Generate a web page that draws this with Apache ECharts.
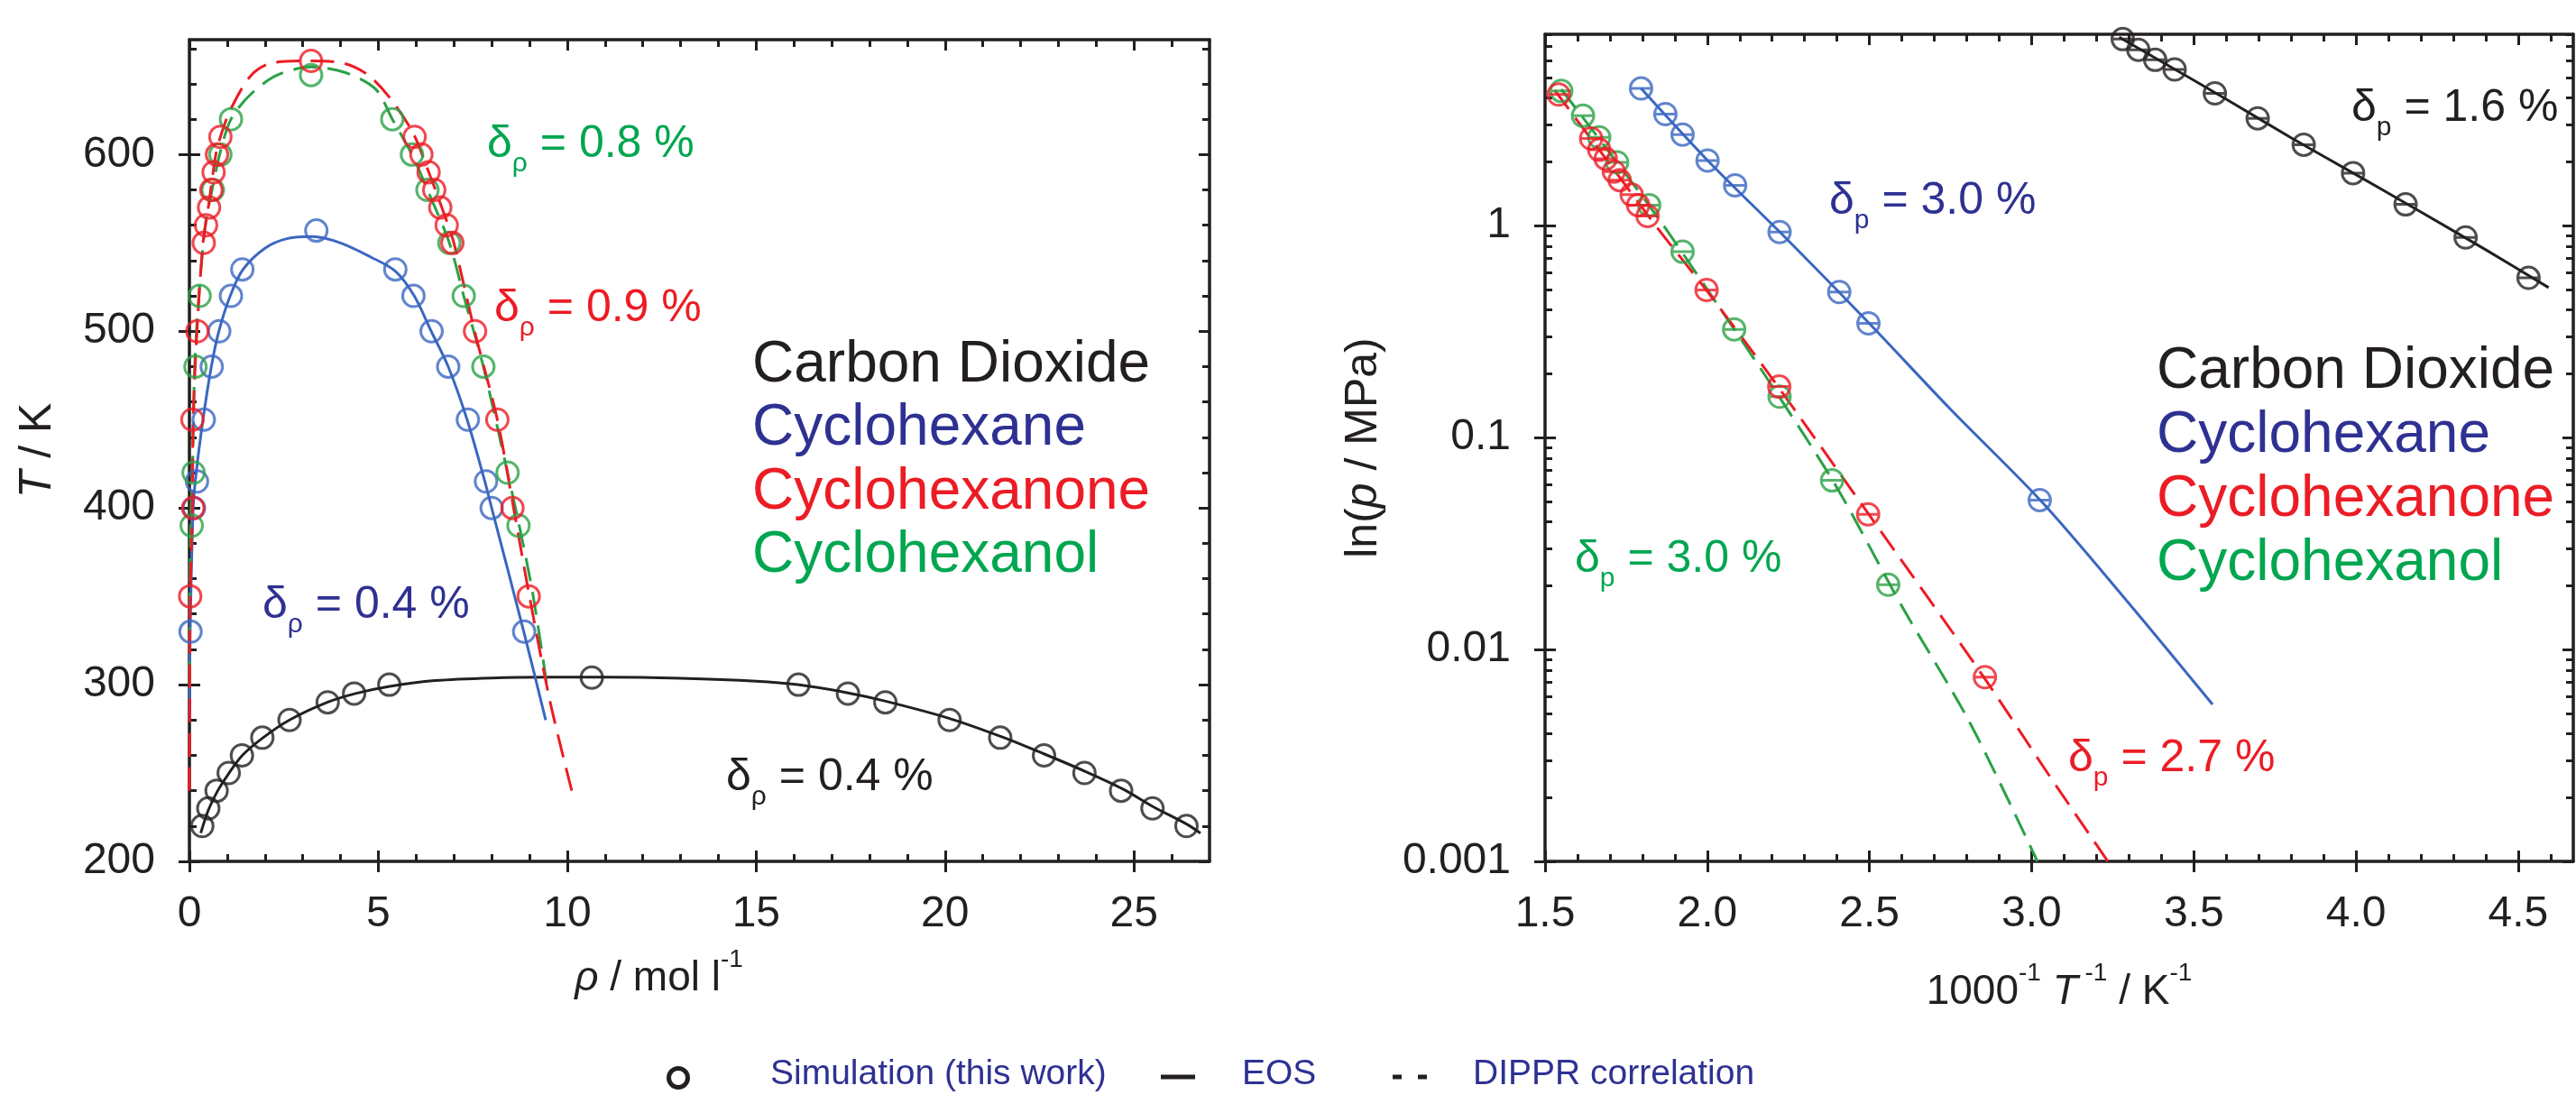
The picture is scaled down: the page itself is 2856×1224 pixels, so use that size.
<!DOCTYPE html>
<html>
<head>
<meta charset="utf-8">
<script src="https://cdn.jsdelivr.net/npm/echarts@6/dist/echarts.min.js"></script>
<style>
  html, body { margin: 0; padding: 0; background: #fff; }
  #chart { width: 2856px; height: 1224px; }
</style>
</head>
<body>
<div id="chart"></div>
<script>
// ---------- left panel: T / K against rho / mol l-1 ----------
const rhoTicks = [0, 5, 10, 15, 20, 25];
const tTicks = [200, 300, 400, 500, 600];

// simulation points
const co2SimRho = [0.34, 0.50, 0.72, 1.04, 1.39, 1.93, 2.65, 3.66, 4.36, 5.29, 10.65, 16.12, 17.43, 18.42, 20.12, 21.46, 22.62, 23.69, 24.66, 25.49, 26.39];
const co2SimT   = [220, 230, 240, 250, 260, 270, 280, 290, 295, 300, 304, 300, 295, 290, 280, 270, 260, 250, 240, 230, 220];
const hexSimRho = [0.03, 0.12, 0.20, 0.38, 0.59, 0.79, 1.10, 1.40, 3.36, 5.45, 5.93, 6.41, 6.85, 7.37, 7.85, 8.00, 8.86];
const hexSimT   = [330, 400, 415, 450, 480, 500, 520, 535, 557, 535, 520, 500, 480, 450, 415, 400, 330];
const oneSimRho = [0.02, 0.10, 0.08, 0.21, 0.38, 0.44, 0.52, 0.58, 0.64, 0.73, 0.82, 3.22, 5.96, 6.14, 6.33, 6.48, 6.64, 6.81, 6.96, 7.56, 8.15, 8.55, 8.98];
const oneSimT   = [350, 400, 450, 500, 550, 560, 570, 580, 590, 600, 610, 653, 610, 600, 590, 580, 570, 560, 550, 500, 450, 400, 350];
const olSimRho  = [0.06, 0.11, 0.16, 0.27, 0.62, 0.82, 1.10, 3.22, 5.37, 5.89, 6.30, 6.88, 7.26, 7.78, 8.42, 8.71];
const olSimT    = [390, 420, 480, 520, 580, 600, 620, 645, 620, 600, 580, 550, 520, 480, 420, 390];

// EOS (solid) and DIPPR (dashed) curves, [rho, T]
const co2Eos = [[0.30, 216], [0.50, 229], [0.75, 240], [1.05, 250], [1.40, 260], [1.95, 270], [2.65, 280], [3.65, 290], [4.40, 295], [5.30, 299], [6.50, 302.3], [8.0, 303.8], [9.5, 304.2], [11.0, 304.2], [13.0, 303.6], [15.0, 302], [16.1, 300], [17.4, 295.5], [18.4, 290.8], [20.1, 281], [21.5, 270.5], [22.6, 261], [23.7, 251], [24.7, 241], [25.5, 231], [26.4, 221], [26.76, 216]];
const hexEos = [[0.0, 280], [0.02, 330], [0.10, 400], [0.18, 420], [0.36, 450], [0.58, 480], [0.78, 500], [1.08, 520], [1.42, 535], [2.0, 547], [2.6, 552.5], [3.25, 553.6], [4.0, 550], [4.8, 542], [5.45, 534], [5.95, 520], [6.40, 500], [6.85, 480], [7.35, 450], [7.82, 415], [8.0, 400], [8.85, 330], [9.43, 280]];
const oneDippr = [[0.0, 240], [0.01, 300], [0.02, 350], [0.08, 400], [0.10, 450], [0.20, 500], [0.36, 550], [0.50, 570], [0.70, 600], [0.85, 612], [1.10, 626], [1.64, 645], [2.20, 652], [3.20, 653], [4.10, 651.5], [4.73, 645], [5.27, 633], [5.90, 613], [6.30, 592], [6.80, 563], [7.00, 550], [7.55, 500], [8.15, 450], [8.58, 400], [9.00, 350], [9.55, 290], [10.12, 240]];
const olDippr = [[0.0, 300], [0.03, 390], [0.08, 420], [0.14, 480], [0.25, 520], [0.42, 560], [0.60, 580], [0.80, 600], [1.10, 620], [1.64, 634.5], [2.33, 645], [3.22, 649.5], [4.11, 646.5], [4.93, 637], [5.37, 620], [5.89, 600], [6.30, 580], [6.88, 550], [7.26, 520], [7.78, 480], [8.42, 420], [8.73, 390], [9.10, 350], [9.48, 297]];

// ---------- right panel: p / MPa (log) against 1000/T ----------
const invTTicks = [1.5, 2.0, 2.5, 3.0, 3.5, 4.0, 4.5];
const pTicks = [0.001, 0.01, 0.1, 1];

const co2SimInvT = [3.281, 3.329, 3.381, 3.441, 3.565, 3.697, 3.839, 3.991, 4.153, 4.338, 4.532];
const co2SimP    = [7.59, 6.76, 6.06, 5.46, 4.21, 3.21, 2.41, 1.77, 1.26, 0.88, 0.567];
const hexSimInvT = [1.796, 1.871, 1.924, 2.001, 2.086, 2.223, 2.407, 2.497, 3.025];
const hexSimP    = [4.44, 3.36, 2.69, 2.03, 1.55, 0.933, 0.486, 0.346, 0.0507];
const oneSimInvT = [1.542, 1.642, 1.667, 1.687, 1.712, 1.730, 1.767, 1.787, 1.816, 1.998, 2.222, 2.496, 2.856];
const oneSimP    = [4.16, 2.58, 2.28, 2.07, 1.80, 1.64, 1.40, 1.25, 1.11, 0.497, 0.174, 0.0434, 0.0074];
const olSimInvT  = [1.550, 1.617, 1.667, 1.722, 1.821, 1.924, 2.083, 2.223, 2.385, 2.558];
const olSimP     = [4.32, 3.30, 2.61, 1.99, 1.25, 0.753, 0.324, 0.156, 0.0628, 0.0202];

const co2EosP = [[3.27, 7.75], [3.40, 5.95], [3.60, 3.95], [3.80, 2.60], [4.00, 1.74], [4.20, 1.16], [4.40, 0.77], [4.594, 0.51]];
const hexEosP = [[1.796, 4.44], [2.00, 2.04], [2.25, 0.85], [2.50, 0.345], [2.75, 0.136], [3.03, 0.050], [3.30, 0.0165], [3.558, 0.0055]];
const oneDipprP = [[1.53, 4.35], [1.70, 1.95], [1.85, 0.96], [2.00, 0.49], [2.20, 0.19], [2.50, 0.043], [2.85, 0.0075], [3.05, 0.0026], [3.235, 0.001]];
const olDipprP = [[1.55, 4.4], [1.70, 2.2], [1.85, 1.08], [2.00, 0.5], [2.20, 0.175], [2.40, 0.058], [2.60, 0.0160], [2.81, 0.0045], [3.018, 0.001]];

// ---------- styles ----------
const FONT = "'Liberation Sans', Arial, Helvetica, sans-serif";
const INK = '#231f20';
const C_HEX = '#3a67c0', C_ONE = '#ec1c24', C_OL = '#2aa146';
const T_HEX = '#2e3192', T_OL = '#00a650';

const pts = (xs, ys) => xs.map((x, i) => [x, ys[i]]);
const notMajor = (vals, majors) => vals.filter(v => !majors.some(m => Math.abs(m - v) < 1e-9));
const range = (a, b, s) => { const r = []; for (let v = a; v <= b + 1e-9; v += s) r.push(+v.toFixed(4)); return r; };

const rhoMinor = notMajor(range(1, 26, 1), rhoTicks);
const tMinor = notMajor(range(220, 660, 20), tTicks);
const invTMinor = notMajor(range(1.6, 4.6, 0.1), invTTicks);
const LOGMAX = Math.log10(8);
const logMajor = pTicks.map(v => Math.log10(v));
const logMinor = [];
logMajor.forEach(d => { for (let k = 2; k <= 9; k++) { const v = d + Math.log10(k); if (v <= LOGMAX) logMinor.push(v); } });

function tickAxis(grid, pos, min, max, values, len, inside, showLine) {
  return {
    type: 'value', gridIndex: grid, position: pos, min: min, max: max,
    axisLine: { show: !!showLine, onZero: false, lineStyle: { color: INK, width: 3.5 } },
    axisLabel: { show: false },
    splitLine: { show: false },
    axisTick: { show: true, inside: inside, length: len, customValues: values, lineStyle: { color: INK, width: 3 } }
  };
}

const labelStyle = { fontSize: 48, color: INK, fontFamily: FONT };

const xAxes = [
  { // 0 left main
    type: 'value', gridIndex: 0, position: 'bottom', min: 0, max: 27,
    axisLine: { show: true, onZero: false, lineStyle: { color: INK, width: 3.5 } },
    axisTick: { show: true, inside: false, length: 12, customValues: rhoTicks, lineStyle: { color: INK, width: 3 } },
    axisLabel: Object.assign({ customValues: rhoTicks, margin: 35 }, labelStyle),
    splitLine: { show: false },
    name: '{i|ρ}{n| / mol l}{s|-1}', nameLocation: 'middle', nameGap: 95,
    nameTextStyle: {
      color: INK, padding: [0, 90, 0, 0],
      rich: {
        i: { fontSize: 46, fontStyle: 'italic', lineHeight: 70, fontFamily: FONT, color: INK },
        n: { fontSize: 46, lineHeight: 70, fontFamily: FONT, color: INK },
        s: { fontSize: 28, lineHeight: 28, verticalAlign: 'top', fontFamily: FONT, color: INK }
      }
    }
  },
  tickAxis(0, 'bottom', 0, 27, rhoTicks, 12, true),
  tickAxis(0, 'bottom', 0, 27, rhoMinor, 8, true),
  tickAxis(0, 'top', 0, 27, rhoTicks, 12, true, true),
  tickAxis(0, 'top', 0, 27, rhoMinor, 8, true),
  { // 5 right main
    type: 'value', gridIndex: 1, position: 'bottom', min: 1.5, max: 4.67,
    axisLine: { show: true, onZero: false, lineStyle: { color: INK, width: 3.5 } },
    axisTick: { show: true, inside: false, length: 12, customValues: invTTicks, lineStyle: { color: INK, width: 3 } },
    axisLabel: Object.assign({ customValues: invTTicks, margin: 35, formatter: v => v.toFixed(1) }, labelStyle),
    splitLine: { show: false },
    name: '{n|1000}{s|-1}{i| T}{s| -1}{n| / K}{s|-1}', nameLocation: 'middle', nameGap: 110,
    nameTextStyle: {
      color: INK,
      rich: {
        i: { fontSize: 46, fontStyle: 'italic', lineHeight: 70, fontFamily: FONT, color: INK },
        n: { fontSize: 46, lineHeight: 70, fontFamily: FONT, color: INK },
        s: { fontSize: 28, lineHeight: 28, verticalAlign: 'top', fontFamily: FONT, color: INK }
      }
    }
  },
  tickAxis(1, 'bottom', 1.5, 4.67, invTTicks, 12, true),
  tickAxis(1, 'bottom', 1.5, 4.67, invTMinor, 8, true),
  tickAxis(1, 'top', 1.5, 4.67, invTTicks, 12, true, true),
  tickAxis(1, 'top', 1.5, 4.67, invTMinor, 8, true)
];

const yAxes = [
  { // 0 left main
    type: 'value', gridIndex: 0, position: 'left', min: 200, max: 665,
    axisLine: { show: true, onZero: false, lineStyle: { color: INK, width: 3.5 } },
    axisTick: { show: true, inside: false, length: 12, customValues: tTicks, lineStyle: { color: INK, width: 3 } },
    axisLabel: Object.assign({ customValues: tTicks, margin: 38 }, labelStyle),
    splitLine: { show: false },
    name: '{i|T}{n| / K}', nameLocation: 'middle', nameGap: 143,
    nameTextStyle: {
      color: INK,
      rich: {
        i: { fontSize: 50, fontStyle: 'italic', fontFamily: FONT, color: INK },
        n: { fontSize: 50, fontFamily: FONT, color: INK }
      }
    }
  },
  tickAxis(0, 'left', 200, 665, tTicks, 12, true),
  tickAxis(0, 'left', 200, 665, tMinor, 8, true),
  tickAxis(0, 'right', 200, 665, tTicks, 12, true, true),
  tickAxis(0, 'right', 200, 665, tMinor, 8, true),
  { // 5 right main (log)
    type: 'log', logBase: 10, gridIndex: 1, position: 'left', min: 0.001, max: 8,
    axisLine: { show: true, onZero: false, lineStyle: { color: INK, width: 3.5 } },
    axisTick: { show: false },
    minorTick: { show: false },
    axisLabel: Object.assign({
      margin: 38,
      formatter: v => { const l = Math.log10(v); return Math.abs(l - Math.round(l)) < 1e-6 ? String(+v.toPrecision(1)) : ''; }
    }, labelStyle),
    splitLine: { show: false },
    name: '{n|ln(}{i|p}{n| / MPa)}', nameLocation: 'middle', nameGap: 176,
    nameTextStyle: {
      color: INK,
      rich: {
        i: { fontSize: 50, fontStyle: 'italic', fontFamily: FONT, color: INK },
        n: { fontSize: 50, fontFamily: FONT, color: INK }
      }
    }
  },
  tickAxis(1, 'left', -3, LOGMAX, logMajor, 12, false),
  tickAxis(1, 'left', -3, LOGMAX, logMajor, 12, true),
  tickAxis(1, 'left', -3, LOGMAX, logMinor, 8, true),
  tickAxis(1, 'right', -3, LOGMAX, logMajor, 12, true, true),
  tickAxis(1, 'right', -3, LOGMAX, logMinor, 8, true)
];

function curve(xi, yi, data, color, dashed) {
  return {
    type: 'line', xAxisIndex: xi, yAxisIndex: yi, data: data, symbol: 'none', smooth: 0.3,
    lineStyle: { color: color, width: 3, type: dashed ? [26, 12] : 'solid' }, z: 2, silent: true
  };
}
function sim(xi, yi, data, color, symbol) {
  return {
    type: 'scatter', xAxisIndex: xi, yAxisIndex: yi, data: data, symbol: symbol || 'circle', symbolSize: 24,
    itemStyle: { color: 'rgba(0,0,0,0)', borderColor: color, borderWidth: 3 }, z: 3, silent: true
  };
}
const BAR_CIRCLE = 'path://M0,12A12,12,0,1,1,24,12A12,12,0,1,1,0,12ZM0,12L24,12';

const series = [
  curve(0, 0, co2Eos, INK, false),
  curve(0, 0, hexEos, C_HEX, false),
  curve(0, 0, olDippr, C_OL, true),
  curve(0, 0, oneDippr, C_ONE, true),
  sim(0, 0, pts(co2SimRho, co2SimT), INK),
  sim(0, 0, pts(hexSimRho, hexSimT), C_HEX),
  sim(0, 0, pts(olSimRho, olSimT), C_OL),
  sim(0, 0, pts(oneSimRho, oneSimT), C_ONE),
  curve(5, 5, co2EosP, INK, false),
  curve(5, 5, hexEosP, C_HEX, false),
  curve(5, 5, olDipprP, C_OL, true),
  curve(5, 5, oneDipprP, C_ONE, true),
  sim(5, 5, pts(co2SimInvT, co2SimP), INK, BAR_CIRCLE),
  sim(5, 5, pts(hexSimInvT, hexSimP), C_HEX, BAR_CIRCLE),
  sim(5, 5, pts(olSimInvT, olSimP), C_OL, BAR_CIRCLE),
  sim(5, 5, pts(oneSimInvT, oneSimP), C_ONE, BAR_CIRCLE)
];

// ---------- text annotations ----------
function dev(x, y, sub, rest, color) {
  return {
    type: 'text', x: x, y: y, z: 10,
    style: {
      text: '{d|δ}{s|' + sub + '}{d|' + rest + '}',
      align: 'left', verticalAlign: 'middle',
      rich: {
        d: { fontSize: 50, lineHeight: 74, fill: color, fontFamily: FONT },
        s: { fontSize: 30, lineHeight: 30, verticalAlign: 'bottom', fill: color, fontFamily: FONT }
      }
    }
  };
}
function word(x, y, text, color, size) {
  return {
    type: 'text', x: x, y: y, z: 10,
    style: { text: text, fill: color, fontSize: size, fontFamily: FONT, align: 'left', verticalAlign: 'middle' }
  };
}
const names = ['Carbon Dioxide', 'Cyclohexane', 'Cyclohexanone', 'Cyclohexanol'];
const nameColors = [INK, T_HEX, C_ONE, T_OL];

const graphic = [
  dev(540, 160, 'ρ', ' = 0.8 %', T_OL),
  dev(548, 342, 'ρ', ' = 0.9 %', C_ONE),
  dev(291, 671, 'ρ', ' = 0.4 %', T_HEX),
  dev(805, 862, 'ρ', ' = 0.4 %', INK),
  dev(2607, 120, 'p', ' = 1.6 %', INK),
  dev(2028, 223, 'p', ' = 3.0 %', T_HEX),
  dev(1746, 620, 'p', ' = 3.0 %', T_OL),
  dev(2293, 841, 'p', ' = 2.7 %', C_ONE)
];
names.forEach((n, i) => {
  graphic.push(word(834, 405 + i * 70.5, n, nameColors[i], 64));
  graphic.push(word(2391, 412 + i * 71, n, nameColors[i], 64));
});
// bottom key
graphic.push(
  { type: 'circle', shape: { cx: 752, cy: 1195, r: 10.5 }, style: { fill: 'none', stroke: INK, lineWidth: 5 } },
  word(854, 1191, 'Simulation (this work)', T_HEX, 39),
  { type: 'line', shape: { x1: 1287, y1: 1194, x2: 1325, y2: 1194 }, style: { stroke: INK, lineWidth: 5 } },
  word(1377, 1191, 'EOS', T_HEX, 39),
  { type: 'line', shape: { x1: 1544, y1: 1194, x2: 1554, y2: 1194 }, style: { stroke: INK, lineWidth: 5 } },
  { type: 'line', shape: { x1: 1572, y1: 1194, x2: 1582, y2: 1194 }, style: { stroke: INK, lineWidth: 5 } },
  word(1633, 1191, 'DIPPR correlation', T_HEX, 39)
);

const chart = echarts.init(document.getElementById('chart'), null, { renderer: 'canvas' });
chart.setOption({
  animation: false,
  backgroundColor: '#fff',
  textStyle: { fontFamily: FONT },
  grid: [
    { left: 210, right: 1515, top: 44, bottom: 269, outerBoundsMode: 'none' },
    { left: 1713, right: 3, top: 38, bottom: 269, outerBoundsMode: 'none' }
  ],
  xAxis: xAxes,
  yAxis: yAxes,
  series: series,
  graphic: graphic
});
</script>
</body>
</html>
